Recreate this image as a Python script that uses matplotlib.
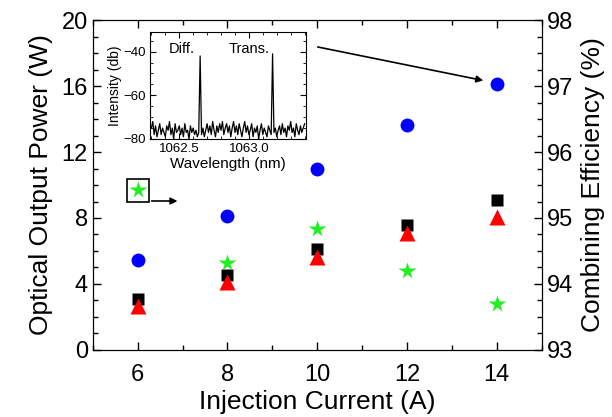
import numpy as np
import matplotlib.pyplot as plt
from matplotlib.patches import Rectangle
from matplotlib.ticker import MultipleLocator

plt.rcParams['font.family'] = ['Liberation Sans', 'DejaVu Sans']

# dados principais
corrente = [6, 8, 10, 12, 14]
potencia_total = [5.45, 8.12, 10.97, 13.64, 16.1]   # círculos azuis
potencia_a = [3.07, 4.55, 6.1, 7.58, 9.09]          # quadrados pretos
potencia_b = [2.67, 4.14, 5.66, 7.07, 8.08]         # triângulos vermelhos
eficiencia = [95.42, 94.32, 94.83, 94.2, 93.7]      # estrelas verdes (eixo direito)

# espectro do inset
comp_onda = np.round(np.arange(1062.30, 1063.405, 0.01), 2)
intensidade = [
    -75, -72, -78, -74, -79, -76, -73, -78, -75, -77,
    -79, -74, -76, -72, -78, -75, -80, -73, -77, -76,
    -74, -78, -75, -79, -73, -77, -76, -80, -74, -77,
    -75, -78, -76, -79, -77, -42, -78, -75, -79, -76,
    -73, -77, -74, -78, -72, -76, -79, -74, -77, -73,
    -76, -72, -78, -75, -73, -77, -74, -79, -75, -72,
    -77, -74, -78, -73, -76, -79, -75, -72, -77, -74,
    -78, -76, -73, -79, -75, -77, -74, -80, -76, -73,
    -78, -75, -77, -79, -74, -76, -78, -41, -77, -75,
    -79, -76, -74, -78, -73, -77, -75, -79, -74, -76,
    -72, -77, -75, -79, -73, -76, -78, -74, -77, -75, -73,
]

fig = plt.figure(figsize=(6.12, 4.17), dpi=100)
ax1 = fig.add_axes([0.1515, 0.1607, 0.7337, 0.7913])
ax2 = ax1.twinx()

ax1.plot(corrente, potencia_total, 'o', color='#0000ff', ms=10, mec='none')
ax1.plot(corrente, potencia_a, 's', color='black', ms=8.5, mec='none')
ax1.plot(corrente, potencia_b, '^', color='#ff0000', ms=11, mec='none')
ax2.plot(corrente, eficiencia, '*', color='#22ee22', ms=13, mec='none')

ax1.set_xlim(5, 15)
ax1.set_ylim(0, 20)
ax2.set_ylim(93, 98)
ax1.xaxis.set_major_locator(MultipleLocator(2))
ax1.xaxis.set_minor_locator(MultipleLocator(1))
ax1.yaxis.set_major_locator(MultipleLocator(4))
ax1.yaxis.set_minor_locator(MultipleLocator(1))
ax2.yaxis.set_major_locator(MultipleLocator(1))
ax2.yaxis.set_minor_locator(MultipleLocator(0.25))

ax1.tick_params(axis='x', which='both', direction='in', top=True, labelsize=17, pad=10)
ax1.tick_params(axis='y', which='both', direction='in', labelsize=17)
ax1.tick_params(which='major', length=6, width=1)
ax1.tick_params(which='minor', length=3.5, width=1)
ax2.tick_params(which='both', direction='in', labelsize=17)
ax2.tick_params(which='major', length=6, width=1)
ax2.tick_params(which='minor', length=3.5, width=1)

ax1.set_xlabel('Injection Current (A)', fontsize=19, labelpad=3)
ax1.set_ylabel('Optical Output Power (W)', fontsize=19, labelpad=6)
ax2.set_ylabel('Combining Efficiency (%)', fontsize=19, labelpad=6)

# caixa em volta da estrela e setas
ax1.add_patch(Rectangle((5.77, 9.0), 0.48, 1.35, fill=False, ec='black', lw=1.2, zorder=5))
ax1.annotate('', xy=(6.95, 9.03), xytext=(6.25, 9.03),
             arrowprops=dict(arrowstyle='-|>', color='black', lw=1.2, mutation_scale=10))
ax1.annotate('', xy=(13.76, 16.3), xytext=(9.95, 18.4),
             arrowprops=dict(arrowstyle='-|>', color='black', lw=1.2, mutation_scale=10))

# inset
axin = fig.add_axes([0.2451, 0.6667, 0.2549, 0.2566])
axin.plot(comp_onda, intensidade, color='black', lw=0.9)
axin.set_xlim(1062.29, 1063.41)
axin.set_ylim(-80, -31)
axin.set_xticks([1062.5, 1063.0])
axin.set_xticklabels(['1062.5', '1063.0'])
axin.xaxis.set_minor_locator(MultipleLocator(0.1))
axin.set_yticks([-80, -60, -40])
axin.yaxis.set_minor_locator(MultipleLocator(5))
axin.tick_params(which='both', direction='in', top=True, right=True, labelsize=9.5, pad=3)
axin.tick_params(which='major', length=4)
axin.tick_params(which='minor', length=2)
axin.set_xlabel('Wavelength (nm)', fontsize=11, labelpad=1)
axin.set_ylabel('Intensity (db)', fontsize=10, labelpad=1)
axin.text(1062.52, -38.8, 'Diff.', fontsize=10.5, ha='center', va='center')
axin.text(1063.0, -38.8, 'Trans.', fontsize=10.5, ha='center', va='center')

fig.savefig('out.png', dpi=100)
